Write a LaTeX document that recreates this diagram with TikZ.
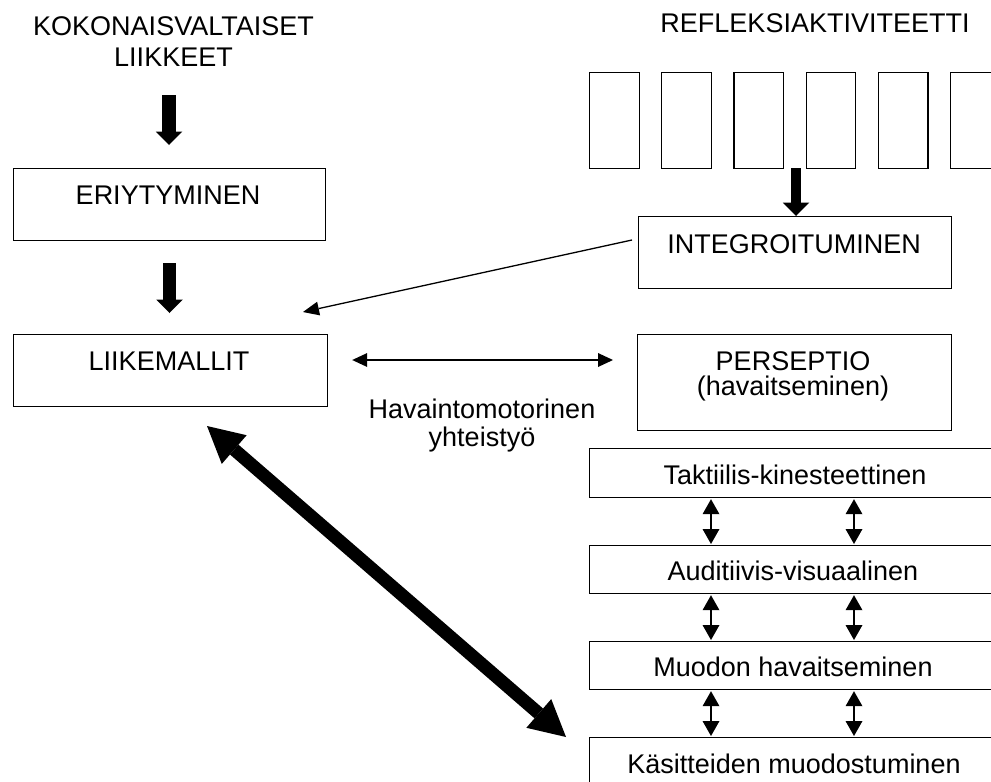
\documentclass[tikz,border=0pt]{standalone}
\usepackage{fontspec}
\setmainfont{Liberation Sans}
\usetikzlibrary{arrows.meta}
\begin{document}
\begin{tikzpicture}[x=1pt,y=-1pt,
  box/.style={draw, line width=1.2pt, inner sep=0pt, anchor=north west},
  txt/.style={anchor=base, inner sep=0pt, font=\fontsize{27}{31}\selectfont},
  blockdown/.style={line width=#1, -{Triangle[length=13.5pt,width=26.5pt,line width=0pt]}},
  bigdbl/.style={line width=13pt, {Triangle[length=36pt,width=38pt,line width=0pt]}-{Triangle[length=36pt,width=38pt,line width=0pt]}},
  thindbl/.style={line width=1.4pt, {Triangle[length=15pt,width=14pt,line width=0pt]}-{Triangle[length=15pt,width=14pt,line width=0pt]}},
  vdbl/.style={line width=1.8pt, {Triangle[length=15pt,width=17pt,line width=0pt]}-{Triangle[length=15pt,width=17pt,line width=0pt]}},
  thinarr/.style={line width=1.3pt, -{Triangle[length=16pt,width=14pt,line width=0pt]}}
]
\useasboundingbox (0,0) rectangle (991,782);
\clip (0,0) rectangle (991,782);

% boxes
\node[box, minimum width=312pt, minimum height=72pt] (eri) at (13,168) {};
\node[box, minimum width=314pt, minimum height=72pt] (liike) at (13,334) {};
\node[box, minimum width=313pt, minimum height=72pt] (integ) at (638,216) {};
\node[box, minimum width=314pt, minimum height=96pt] (pers) at (637,334) {};
\node[box, minimum width=410pt, minimum height=49pt] (takt) at (589,448) {};
\node[box, minimum width=410pt, minimum height=48pt] (audi) at (589,545) {};
\node[box, minimum width=410pt, minimum height=48pt] (muod) at (589,641) {};
\node[box, minimum width=410pt, minimum height=60pt] (kasit) at (589,737) {};
\foreach \i in {0,...,5}{
  \node[box, minimum width=49.5pt, minimum height=96pt] (r\i) at ({589+72.2*\i},72) {};
}

% texts
\node[txt] (kok1) at (173.5,35) {KOKONAISVALTAISET};
\node[txt] (kok2) at (173.5,66) {LIIKKEET};
\node[txt] (refl) at (815,32) {REFLEKSIAKTIVITEETTI};
\node[txt] (erit) at (168,204) {ERIYTYMINEN};
\node[txt] (liiket) at (169,370) {LIIKEMALLIT};
\node[txt] (integt) at (794,253) {INTEGROITUMINEN};
\node[txt] (perst1) at (793,370) {PERSEPTIO};
\node[txt] (perst2) at (793,395) {(havaitseminen)};
\node[txt] (hav1) at (482,418) {Havaintomotorinen};
\node[txt] (hav2) at (482,446) {yhteistyö};
\node[txt] (taktt) at (795,484) {Taktiilis-kinesteettinen};
\node[txt] (audit) at (793,580) {Auditiivis-visuaalinen};
\node[txt] (muodt) at (793,676) {Muodon havaitseminen};
\node[txt] (kasitt) at (794,773) {Käsitteiden muodostuminen};

% helper coordinates
\coordinate (a1s) at (169,95);
\coordinate (a2s) at (169.5,263);
\coordinate (a3s) at (796,168);
\coordinate (hy) at (0,360);
\coordinate (ax1) at (711,0);
\coordinate (ax2) at (854,0);
\coordinate (dgs) at (207,426);
\coordinate (dge) at (566,737);
\coordinate (ths) at (632,240);
\coordinate (the) at (303,312);

% block arrows
\draw[blockdown=13.5pt, shorten >=23pt] (a1s) -- (a1s |- eri.north);
\draw[blockdown=13.5pt, shorten >=21pt] (a2s) -- (a2s |- liike.north);
\draw[blockdown=10.5pt] (a3s) -- (a3s |- integ.north);

% diagonal big double arrow
\draw[bigdbl] (dgs) -- (dge);

% thin arrows
\draw[thinarr] (ths) -- (the);
\draw[thindbl, shorten <=24pt, shorten >=24pt] (liike.east |- hy) -- (pers.west |- hy);

% vertical double arrows
\foreach \a in {ax1,ax2}{
  \draw[vdbl, shorten <=1pt, shorten >=1pt] (takt.south -| \a) -- (audi.north -| \a);
  \draw[vdbl, shorten <=1pt, shorten >=1pt] (audi.south -| \a) -- (muod.north -| \a);
  \draw[vdbl, shorten <=1pt, shorten >=1pt] (muod.south -| \a) -- (kasit.north -| \a);
}
\end{tikzpicture}
\end{document}
